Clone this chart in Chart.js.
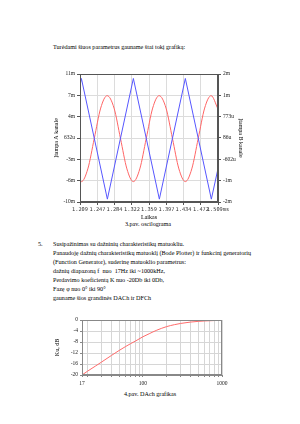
<!DOCTYPE html>
<html><head><meta charset="utf-8">
<script src="https://cdn.jsdelivr.net/npm/chart.js@4.4.1/dist/chart.umd.min.js"></script>
<style>
html,body{margin:0;padding:0;background:#fff;}
body{width:300px;height:424px;position:relative;overflow:hidden;font-family:"Liberation Serif","Times New Roman",serif;color:#000;}
.t{position:absolute;white-space:nowrap;font-size:6.15px;line-height:7.7px;}
.c{position:absolute;}
</style></head><body>
<div class="t" style="left:53px;top:44.2px">Turėdami šiuos parametrus gauname štai tokį grafiką:</div>
<canvas id="c1" class="c" width="191" height="153" style="left:53px;top:68px;width:191px;height:153px"></canvas>
<div class="t" style="left:148px;top:221.2px;transform:translateX(-50%)">3.pav. oscilograma</div>
<div class="t" style="left:38px;top:241.2px">5.</div>
<div class="t" style="left:53px;top:241.2px">Susipažinimas su dažninių charakteristikų matuokliu.</div>
<div class="t" style="left:53px;top:250.2px">Panaudoję dažnių charakteristikų matuoklį (Bode Plotter) ir funkcinį generatorių</div>
<div class="t" style="left:53px;top:259.2px">(Function Generator), suderinę matuoklio parametrus:</div>
<div class="t" style="left:53px;top:268.2px">dažnių diapazoną f&nbsp; nuo&nbsp; 17Hz iki ~1000kHz,</div>
<div class="t" style="left:53px;top:277.2px">Perdavimo koeficientą K nuo -20Db iki 0Db,</div>
<div class="t" style="left:53px;top:286.2px">Fazę φ nuo 0° iki 90°</div>
<div class="t" style="left:53px;top:295.2px">gauname šios grandinės DACh ir DFCh</div>
<canvas id="c2" class="c" width="178" height="76" style="left:54px;top:314px;width:178px;height:76px"></canvas>
<div class="t" style="left:150px;top:391.2px;transform:translateX(-50%)">4.pav. DAch grafikas</div>
<script>
// ---- Chart 1: oscillogram ----
const timeA = [1.209, 1.212, 1.2685, 1.325, 1.3815, 1.438, 1.4945, 1.509];
const chanA = [9.3, 10.4, -9.4, 10.4, -9.4, 10.4, -9.4, -4.4];
const timeB = [1.209, 1.212, 1.226, 1.240, 1.254, 1.268, 1.283, 1.297, 1.311, 1.325, 1.339, 1.353, 1.367, 1.381, 1.396, 1.410, 1.424, 1.438, 1.452, 1.466, 1.480, 1.494, 1.509];
const chanB = [-1.30, -1.32, -0.91, 0.07, 1.05, 1.45, 1.05, 0.07, -0.91, -1.32, -0.91, 0.07, 1.05, 1.45, 1.05, 0.07, -0.91, -1.32, -0.91, 0.07, 1.05, 1.45, 1.02];
const xTickValues = [1.209, 1.247, 1.284, 1.322, 1.359, 1.397, 1.434, 1.472, 1.509];
const xTickLabels = ["1.209", "1.247", "1.284", "1.322", "1.359", "1.397", "1.434", "1.472", "1.509ms"];
const leftTickValues = [-9.868, -6.368, -2.868, 0.632, 4.132, 7.632, 11.132];
const leftTickLabels = ["-10m", "-6m", "-3m", "632u", "4m", "7m", "11m"];
const rightTickValues = [-1.977, -1.289, -0.602, 0.086, 0.773, 1.461, 2.148];
const rightTickLabels = ["-2m", "-1m", "-602u", "86u", "773u", "1m", "2m"];

// ---- Chart 2: frequency response ----
const freqs = [17, 20, 25, 30, 40, 50, 60, 70, 80, 100, 120, 150, 200, 250, 300, 400, 500, 600, 700, 800, 1000];
const gainDb = [-20, -18.6, -16.8, -15.3, -12.9, -11.1, -9.7, -8.6, -7.7, -6.1, -5.0, -3.7, -2.4, -1.7, -1.25, -0.75, -0.5, -0.35, -0.27, -0.2, -0.13];
const freqGrid = [17, 20, 30, 40, 50, 60, 70, 80, 90, 100, 200, 300, 400, 500, 600, 700, 800, 900, 1000];
const freqLabels = [17, 100, 1000];
const dbTicks = [-20, -16, -12, -8, -4, 0];

const SERIF = "'Liberation Serif', 'Times New Roman', serif";
const framePlugin = {
  id: 'frame',
  afterDatasetsDraw(chart, args, opts) {
    const a = chart.chartArea, ctx = chart.ctx;
    ctx.save();
    ctx.strokeStyle = opts.color || '#444';
    ctx.lineWidth = 1;
    ctx.strokeRect(Math.round(a.left) + 0.5, Math.round(a.top) + 0.5, Math.round(a.right - a.left) - 1, Math.round(a.bottom - a.top) - 1);
    ctx.restore();
  }
};

new Chart(document.getElementById('c1'), {
  type: 'scatter',
  data: {
    datasets: [
      { data: timeA.map((t, i) => ({ x: t, y: chanA[i] })), yAxisID: 'y', showLine: true, borderColor: '#5656ff', borderWidth: 1, pointRadius: 0, tension: 0 },
      { data: timeB.map((t, i) => ({ x: t, y: chanB[i] })), yAxisID: 'y1', showLine: true, borderColor: '#ff6565', borderWidth: 1, pointRadius: 0, cubicInterpolationMode: 'monotone' }
    ]
  },
  options: {
    responsive: false, animation: false, devicePixelRatio: 1,
    layout: { padding: { top: 6, left: 0, right: 0, bottom: 0 } },
    plugins: { legend: { display: false }, tooltip: { enabled: false }, frame: { color: '#555' } },
    scales: {
      x: {
        type: 'linear', min: 1.209, max: 1.509,
        afterBuildTicks: s => { s.ticks = xTickValues.map(v => ({ value: v })); },
        ticks: { callback: (v, i) => xTickLabels[i], font: { family: "'DejaVu Sans Mono', monospace", size: 5.3 }, color: '#333', padding: 1, minRotation: 0, maxRotation: 0, autoSkip: false },
        grid: { color: '#dcdcdc', tickLength: 3, tickColor: '#555' },
        border: { color: '#555' },
        title: { display: true, text: 'Laikas', font: { family: SERIF, size: 6 }, color: '#000', padding: { top: 0, bottom: 0 } },
        afterFit: s => { s.height = 19; }
      },
      y: {
        position: 'left', min: -9.868, max: 11.132,
        afterBuildTicks: s => { s.ticks = leftTickValues.map(v => ({ value: v })); },
        ticks: { callback: (v, i) => leftTickLabels[i], font: { family: SERIF, size: 5.5 }, color: '#222', padding: 2, autoSkip: false },
        grid: { color: '#dcdcdc', tickLength: 3, tickColor: '#555' },
        border: { color: '#555' },
        title: { display: true, text: 'Įtampa A kanale', font: { family: SERIF, size: 6 }, color: '#000', padding: { top: 0, bottom: 0 } },
        afterFit: s => { s.width = 27; }
      },
      y1: {
        position: 'right', min: -1.977, max: 2.148,
        afterBuildTicks: s => { s.ticks = rightTickValues.map(v => ({ value: v })); },
        ticks: { callback: (v, i) => rightTickLabels[i], font: { family: SERIF, size: 5.5 }, color: '#222', padding: 2, autoSkip: false },
        grid: { drawOnChartArea: false, tickLength: 3, tickColor: '#555' },
        border: { color: '#555' },
        title: { display: true, text: 'Įtampa B kanale', font: { family: SERIF, size: 6 }, color: '#000', padding: { top: 0, bottom: 0 } },
        afterFit: s => { s.width = 26; }
      }
    }
  },
  plugins: [framePlugin]
});

new Chart(document.getElementById('c2'), {
  type: 'scatter',
  data: {
    datasets: [
      { data: freqs.map((f, i) => ({ x: f, y: gainDb[i] })), showLine: true, borderColor: '#ff6b6b', borderWidth: 1, pointRadius: 0, cubicInterpolationMode: 'monotone' }
    ]
  },
  options: {
    responsive: false, animation: false, devicePixelRatio: 1,
    layout: { padding: { top: 6, left: 0, right: 10, bottom: 0 } },
    plugins: { legend: { display: false }, tooltip: { enabled: false }, frame: { color: '#888' } },
    scales: {
      x: {
        type: 'logarithmic', min: 17, max: 1000,
        afterBuildTicks: s => { s.ticks = freqGrid.map(v => ({ value: v })); },
        ticks: { callback: v => (freqLabels.includes(v) ? String(v) : ''), font: { family: SERIF, size: 5.5 }, color: '#222', padding: 3.5, minRotation: 0, maxRotation: 0, autoSkip: false },
        grid: { color: '#d6d6d6', tickLength: 2, tickColor: '#888' },
        border: { color: '#888' },
        afterFit: s => { s.height = 15; }
      },
      y: {
        min: -20, max: 0,
        afterBuildTicks: s => { s.ticks = dbTicks.map(v => ({ value: v })); },
        ticks: { font: { family: SERIF, size: 5.5 }, color: '#222', padding: 2, autoSkip: false },
        grid: { color: '#d6d6d6', tickLength: 2, tickColor: '#888' },
        border: { color: '#888' },
        title: { display: true, text: 'Ku, dB', font: { family: SERIF, size: 6 }, color: '#000', padding: { top: 0, bottom: 0 } },
        afterFit: s => { s.width = 28; }
      }
    }
  },
  plugins: [framePlugin]
});
</script>
</body></html>
